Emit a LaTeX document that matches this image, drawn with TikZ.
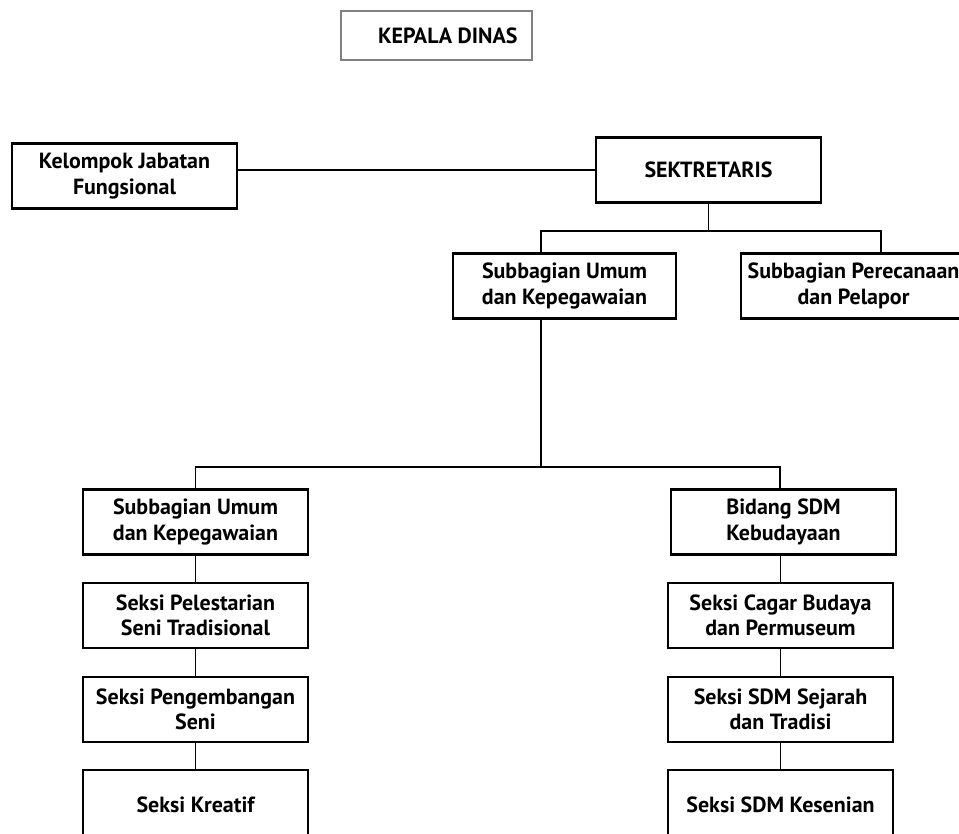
\documentclass[tikz,border=0pt]{standalone}
\usepackage{fontspec}
\setmainfont{PT Sans}

\begin{document}
\begin{tikzpicture}[x=0.02cm, y=-0.02cm, line width=1pt,
    unit/.style={rectangle, draw, line width=1.2pt, align=center, inner sep=2pt,
        minimum width=4.5cm, minimum height=1.3cm,
        font=\fontsize{12.5}{14.5}\selectfont\bfseries}]
    \useasboundingbox (0,0) rectangle (959,833);
    \clip (0,0) rectangle (959,833);

    \node[rectangle, draw=gray, line width=0.8pt, minimum width=3.82cm, minimum height=0.98cm,
        font=\fontsize{12.5}{14}\selectfont\bfseries] (kepala) at (436.5,35.5) {\hspace*{0.45cm}KEPALA DINAS};

    \node[unit] (kelompok) at (124.5,176) {Kelompok Jabatan\\Fungsional};
    \node[unit] (sek) at (708.5,170) {SEKTRETARIS};
    \node[unit, minimum width=4.46cm] (umum) at (564.5,286) {Subbagian Umum\\dan Kepegawaian};
    \node[unit] (renc) at (853.5,286) {Subbagian Perecanaan\\dan Pelapor};

    % kiri
    \node[unit] (bidL) at (195.5,522) {Subbagian Umum\\dan Kepegawaian};
    \node[unit] (pel) at (195.5,615.5) {Seksi Pelestarian\\Seni Tradisional};
    \node[unit] (kemb) at (195.5,709.5) {Seksi Pengembangan\\Seni};
    \node[unit, minimum height=1.4cm] (kreatif) at (195.5,805) {Seksi Kreatif};

    % kanan
    \node[unit] (bidR) at (783.5,522) {Bidang SDM\\Kebudayaan};
    \node[unit] (cagar) at (780.5,615.5) {Seksi Cagar Budaya\\dan Permuseum};
    \node[unit] (sejarah) at (780.5,709.5) {Seksi SDM Sejarah\\dan Tradisi};
    \node[unit, minimum height=1.4cm] (kesenian) at (780.5,805) {Seksi SDM Kesenian};

    \coordinate (bus1) at (708.5,231);
    \coordinate (bus2) at (541,467);

    \draw (sek.west) -- (sek.west -| kelompok.east);
    \draw (sek.south) -- (bus1);
    \draw ([xshift=-0.47cm]umum.north) |- (bus1) -| ([xshift=0.55cm]renc.north);
    \draw ([xshift=-0.47cm]umum.south) -- (bus2);
    \draw (bidL.north) |- (bus2) -| ([xshift=-0.07cm]bidR.north);

    \draw (bidL) -- (pel);
    \draw (pel) -- (kemb);
    \draw (kemb) -- (kreatif);
    \draw (cagar.north) -- (cagar.north |- bidR.south);
    \draw (cagar) -- (sejarah);
    \draw (sejarah) -- (kesenian);
\end{tikzpicture}
\end{document}
